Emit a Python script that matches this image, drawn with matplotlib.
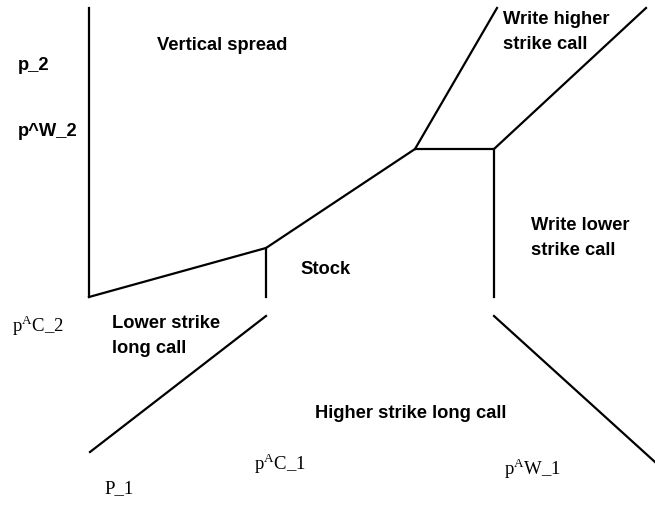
import matplotlib.pyplot as plt

plt.rcParams['mathtext.fontset'] = 'custom'
plt.rcParams['mathtext.rm'] = 'Liberation Serif'

# payoff path (drawing coordinates, y grows downward)
path_x = [89, 266, 415, 494, 646]
path_y = [297, 248, 149, 149, 8]
branch_x = [415, 497]
branch_y = [149, 8]

# vertical guides
guide_x = [89, 266, 494]
guide_top = [8, 248, 149]
guide_bottom = [297, 297, 297]

# lower legs
lower_left_x = [90, 266]
lower_left_y = [452, 316]
lower_right_x = [494, 655]
lower_right_y = [316, 462]

sans_labels = [
    (157, 46, 'Vertical spread'),
    (18, 66, 'p_2'),
    (18, 131, 'p^W_2'),
    (503, 32, 'Write higher\nstrike call'),
    (531, 238, 'Write lower\nstrike call'),
    (300, 269, 'Stock'),
    (112, 336, 'Lower strike\nlong call'),
    (315, 414, 'Higher strike long call'),
]
serif_labels = [
    (12, 326, r'p$^{\mathrm{A}}$C_2'),
    (104, 489, 'P_1'),
    (254, 464, r'p$^{\mathrm{A}}$C_1'),
    (504, 469, r'p$^{\mathrm{A}}$W_1'),
]

fig = plt.figure(figsize=(6.55, 5.25), dpi=100)
ax = fig.add_axes([0, 0, 1, 1])
ax.set_xlim(0, 655)
ax.set_ylim(525, 0)
ax.axis('off')

lw = 1.6
ax.plot(path_x, path_y, color='black', lw=lw)
ax.plot(branch_x, branch_y, color='black', lw=lw)
for x, t, b in zip(guide_x, guide_top, guide_bottom):
    ax.plot([x, x], [t, b], color='black', lw=lw)
ax.plot(lower_left_x, lower_left_y, color='black', lw=lw)
ax.plot(lower_right_x, lower_right_y, color='black', lw=lw)

for x, y, s in sans_labels:
    ax.text(x, y, s, family='Liberation Sans', fontsize=13.2, weight='bold',
            ha='left', va='center', linespacing=1.55)
for x, y, s in serif_labels:
    ax.text(x, y, s, family='Liberation Serif', fontsize=13.5,
            ha='left', va='center')

fig.savefig('out.png', dpi=100)
